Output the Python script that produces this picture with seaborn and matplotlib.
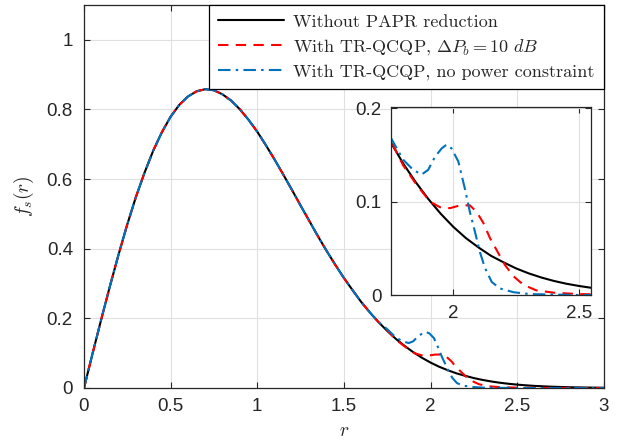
import pandas as pd
import matplotlib
matplotlib.use('Agg')
import matplotlib.pyplot as plt
from matplotlib.ticker import FuncFormatter
import seaborn as sns

# values
# up to r = 1.7 the three curves lie on top of each other
r_head = [0.0, 0.05, 0.1, 0.15, 0.2, 0.25, 0.3, 0.35, 0.4, 0.45, 0.5, 0.55,
          0.6, 0.65, 0.7, 0.75, 0.8, 0.85, 0.9, 0.95, 1.0, 1.05, 1.1, 1.15,
          1.2, 1.25, 1.3, 1.35, 1.4, 1.45, 1.5, 1.55, 1.6, 1.65, 1.7]
f_head = [0.0, 0.100, 0.198, 0.293, 0.384, 0.470, 0.549, 0.619, 0.682, 0.735,
          0.779, 0.813, 0.837, 0.852, 0.858, 0.855, 0.843, 0.825, 0.800, 0.770,
          0.736, 0.697, 0.656, 0.613, 0.569, 0.524, 0.480, 0.436, 0.394, 0.354,
          0.316, 0.281, 0.247, 0.217, 0.189]

# tails, where the PAPR reduction changes the distribution
r_tail_ref = [1.75, 1.8, 1.85, 1.9, 1.95, 2.0, 2.05, 2.1, 2.15, 2.2, 2.25, 2.3,
              2.35, 2.4, 2.45, 2.5, 2.55, 2.6, 2.7, 2.8, 2.9, 3.0]
f_tail_ref = [0.164, 0.141, 0.121, 0.103, 0.087, 0.073, 0.061, 0.051, 0.042, 0.035,
              0.0285, 0.0232, 0.0188, 0.0151, 0.0121, 0.0097, 0.0077, 0.006,
              0.0037, 0.0022, 0.0013, 0.0007]

r_tail_tr = [1.75, 1.8, 1.854, 1.907, 1.947, 1.987, 2.027, 2.066, 2.093, 2.12,
             2.146, 2.179, 2.206, 2.24, 2.279, 2.33, 2.4, 2.5, 2.7, 3.0]
f_tail_tr = [0.166, 0.139, 0.118, 0.100, 0.094, 0.093, 0.096, 0.096, 0.089, 0.077,
             0.061, 0.045, 0.032, 0.020, 0.011, 0.005, 0.0025, 0.001, 0.0003, 0.0]

r_tail_np = [1.75, 1.8, 1.84, 1.874, 1.9, 1.927, 1.954, 1.973, 1.993, 2.02,
             2.046, 2.066, 2.086, 2.106, 2.126, 2.153, 2.186, 2.24, 2.305, 2.5, 3.0]
f_tail_np = [0.169, 0.145, 0.134, 0.129, 0.134, 0.148, 0.157, 0.161, 0.157, 0.143,
             0.114, 0.089, 0.068, 0.046, 0.029, 0.014, 0.007, 0.003, 0.001, 0.0, 0.0]

labels = ['Without PAPR reduction',
          r'With TR-QCQP, $\Delta P_b = 10\ dB$',
          'With TR-QCQP, no power constraint']
colors = ['black', '#ff0000', '#0072bd']
styles = ['-', (0, (5, 3.5)), (0, (6, 2.5, 1.2, 2.5))]

curves = []
for lab, rt, ft in zip(labels, [r_tail_ref, r_tail_tr, r_tail_np],
                       [f_tail_ref, f_tail_tr, f_tail_np]):
    curves.append(pd.DataFrame({'r': r_head + rt, 'f': f_head + ft, 'label': lab}))

sns.set_style('whitegrid')
plt.rcParams['font.family'] = ['Liberation Sans', 'DejaVu Sans']
plt.rcParams['mathtext.fontset'] = 'cm'

dark = '#262626'
fig = plt.figure(figsize=(6.24, 4.47), dpi=100)
ax = fig.add_axes([0.1346, 0.132, 0.833, 0.857])
ins = fig.add_axes([0.6266, 0.340, 0.320, 0.420])

for a in (ax, ins):
    for df, c, ls in zip(curves, colors, styles):
        sns.lineplot(data=df, x='r', y='f', ax=a, color=c, linestyle=ls,
                     linewidth=1.5, label=df['label'].iloc[0] if a is ax else None,
                     sort=False)
    a.grid(True, color='#e0e0e0', linewidth=0.8)
    a.set_facecolor('white')
    for s in a.spines.values():
        s.set_visible(True)
        s.set_color(dark)
        s.set_linewidth(0.9)
    a.tick_params(direction='in', length=4, width=0.8, colors=dark,
                  labelsize=13.5, top=True, right=True, bottom=True, left=True,
                  labeltop=False, labelright=False)
    a.xaxis.set_major_formatter(FuncFormatter(lambda v, p: f'{v:g}'))
    a.yaxis.set_major_formatter(FuncFormatter(lambda v, p: f'{v:g}'))
    a.set_xlabel('')
    a.set_ylabel('')

ax.set_xlim(0, 3)
ax.set_ylim(0, 1.1)
ax.set_xticks([0, 0.5, 1, 1.5, 2, 2.5, 3])
ax.set_yticks([0, 0.2, 0.4, 0.6, 0.8, 1])
ax.tick_params(axis='x', pad=7)
ax.tick_params(axis='y', pad=8)
ax.set_xlabel('$r$', fontsize=14, labelpad=6)
ax.set_ylabel('$f_s(r)$', fontsize=14, labelpad=8)

ins.set_xlim(1.752, 2.547)
ins.set_ylim(0, 0.201)
ins.set_xticks([2, 2.5])
ins.set_yticks([0, 0.1, 0.2])
ins.tick_params(axis='both', pad=7)

leg = ax.legend(loc='upper right', borderaxespad=0, fancybox=False,
                framealpha=1, edgecolor='black', handlelength=3.7,
                handletextpad=0.5, prop={'family': 'cmr10', 'size': 13},
                labelspacing=0.4, borderpad=0.5)
leg.get_frame().set_linewidth(0.9)

fig.savefig('out.png', dpi=100)
